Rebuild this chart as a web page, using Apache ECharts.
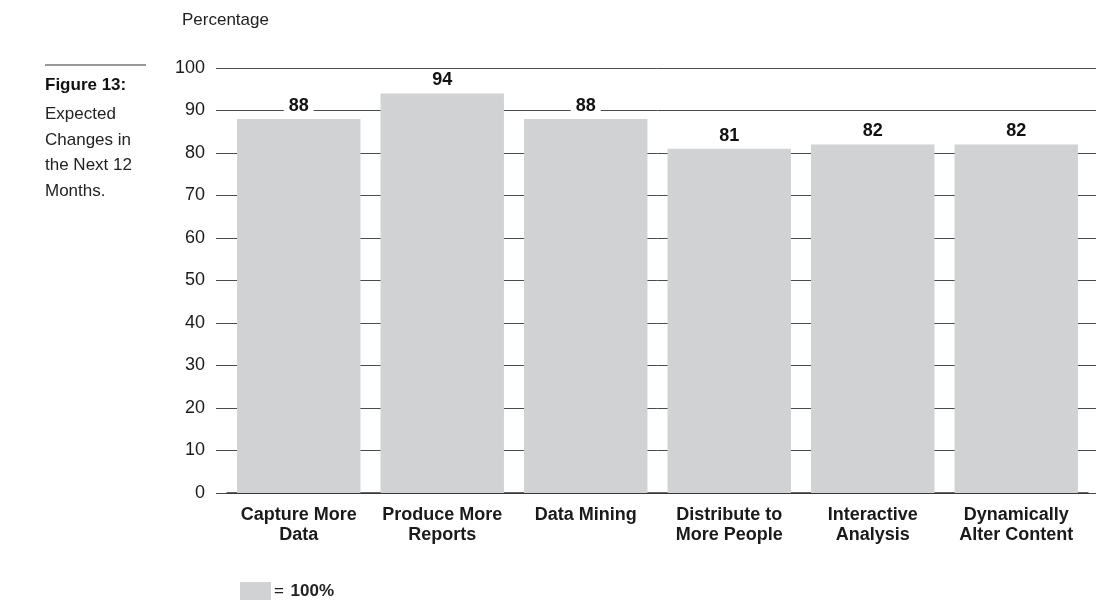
<!DOCTYPE html>
<html>
<head>
<meta charset="utf-8">
<script src="https://cdn.jsdelivr.net/npm/echarts@6/dist/echarts.min.js"></script>
<style>
  html, body { margin: 0; padding: 0; background: #fff; }
  #chart { width: 1096px; height: 602px; }
</style>
</head>
<body>
<div id="chart"></div>
<script>
const categories = [
  "Capture More\nData",
  "Produce More\nReports",
  "Data Mining",
  "Distribute to\nMore People",
  "Interactive\nAnalysis",
  "Dynamically\nAlter Content",
];
const values = [88, 94, 88, 81, 82, 82];
const yTicks = { min: 0, max: 100, step: 10 };
const captionLines = ["Expected", "Changes in", "the Next 12", "Months."];

const font = "'Liberation Sans', Arial, sans-serif";
const gridColor = "#4a4a4a";

const chart = echarts.init(document.getElementById("chart"));

const option = {
  animation: false,
  title: {
    text: "Percentage",
    left: 177,
    top: 7,
    textStyle: { fontFamily: font, fontSize: 17, fontWeight: "normal", color: "#222" },
  },
  grid: { left: 227, right: 8, top: 68, bottom: 109 },
  legend: {
    left: 235,
    top: 577,
    icon: "rect",
    itemWidth: 31,
    itemHeight: 18,
    itemGap: 4,
    data: ["100%"],
    formatter: () => "{eq|=}  {v|100%}",
    textStyle: {
      padding: [0, 0, 0, -2],
      rich: {
        eq: { fontFamily: font, fontSize: 17, color: "#222" },
        v: { fontFamily: font, fontSize: 17, fontWeight: "bold", color: "#222" },
      },
    },
  },
  xAxis: {
    type: "category",
    data: categories,
    axisLine: { lineStyle: { color: "#333", width: 1.5 } },
    axisTick: { show: false },
    axisLabel: {
      margin: 12,
      interval: 0,
      fontFamily: font,
      fontSize: 18,
      fontWeight: "bold",
      lineHeight: 20,
      color: "#1a1a1a",
    },
  },
  yAxis: [
    {
      type: "value",
      min: yTicks.min,
      max: yTicks.max,
      interval: yTicks.step,
      axisLine: { show: false },
      axisTick: { show: true, length: 11, lineStyle: { color: gridColor } },
      splitLine: { lineStyle: { color: gridColor, width: 1 } },
      axisLabel: { margin: 22, fontFamily: font, fontSize: 18, color: "#1a1a1a" },
    },
    {
      // only here so the grid lines run on to the right edge
      type: "value",
      position: "right",
      min: yTicks.min,
      max: yTicks.max,
      interval: yTicks.step,
      axisLine: { show: false },
      axisTick: { show: true, length: 10, lineStyle: { color: gridColor } },
      splitLine: { show: false },
      axisLabel: { show: false },
    },
  ],
  series: [
    {
      name: "100%",
      type: "bar",
      data: values,
      barCategoryGap: "14%",
      itemStyle: { color: "#d1d2d4" },
      label: {
        show: true,
        position: "top",
        distance: 3,
        fontFamily: font,
        fontSize: 18,
        fontWeight: "bold",
        color: "#111",
        backgroundColor: "#fff",
        padding: [1, 5],
      },
    },
  ],
  graphic: [
    {
      type: "line",
      shape: { x1: 45, y1: 65, x2: 146, y2: 65 },
      style: { stroke: "#333", lineWidth: 1 },
    },
    {
      type: "text",
      left: 45,
      top: 77,
      style: { text: "Figure 13:", font: "bold 17px " + font, fill: "#111" },
    },
    {
      type: "text",
      left: 45,
      top: 102,
      style: {
        text: captionLines.join("\n"),
        font: "17px " + font,
        lineHeight: 25.5,
        fill: "#222",
      },
    },
  ],
};

chart.setOption(option);
</script>
</body>
</html>
